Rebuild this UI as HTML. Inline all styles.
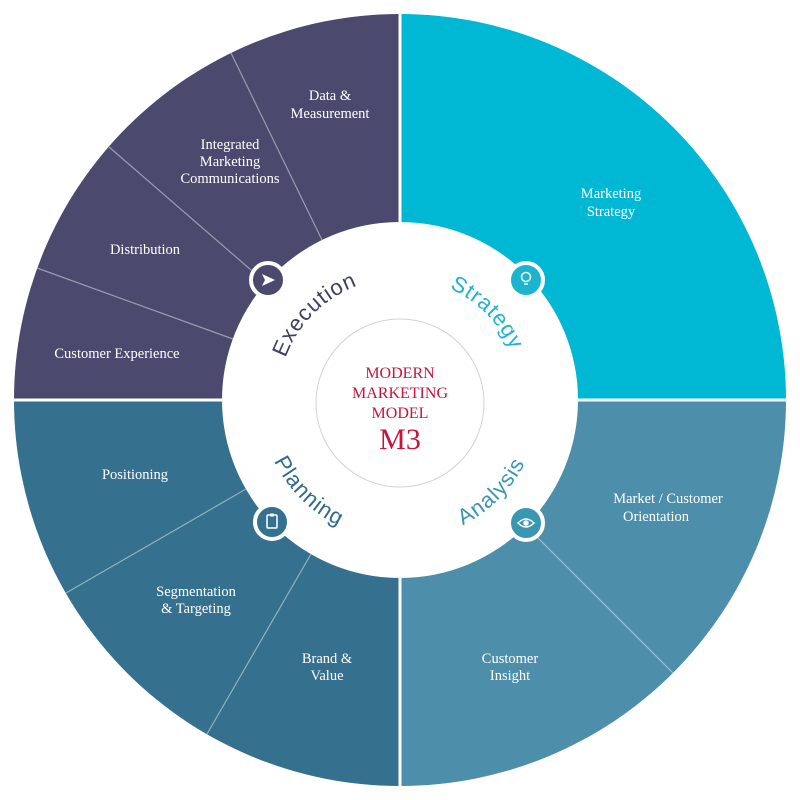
<!DOCTYPE html>
<html><head><meta charset="utf-8"><style>html,body{margin:0;padding:0;background:#fff}svg{display:block}</style></head>
<body>
<svg width="800" height="800" viewBox="0 0 800 800" xmlns="http://www.w3.org/2000/svg">
<rect width="800" height="800" fill="#fff"/>
<path d="M400 400 L14 400 A386 386 0 0 1 400 14 Z" fill="#4b4a6e"/>
<path d="M400 400 L400 14 A386 386 0 0 1 786 400 Z" fill="#00b8d3"/>
<path d="M400 400 L786 400 A386 386 0 0 1 400 786 Z" fill="#4d8fab"/>
<path d="M400 400 L400 786 A386 386 0 0 1 14 400 Z" fill="#35718f"/>
<g stroke="rgba(255,255,255,0.45)" stroke-width="1.2">
<line x1="322" y1="240" x2="231" y2="53"/>
<line x1="266" y1="283" x2="109" y2="147"/>
<line x1="233" y1="339" x2="37" y2="268"/>
<line x1="246" y1="489" x2="66" y2="593"/>
<line x1="311" y1="554" x2="207" y2="734"/>
<line x1="526" y1="526" x2="673" y2="673"/>
</g>
<line x1="400" y1="0" x2="400" y2="800" stroke="#fff" stroke-width="3"/>
<line x1="0" y1="400" x2="800" y2="400" stroke="#fff" stroke-width="3"/>
<circle cx="400" cy="400" r="178" fill="#fff"/>
<circle cx="400" cy="403" r="84" fill="#fff" stroke="#d4d4d4" stroke-width="1"/>
<g font-family="'Liberation Serif',serif" fill="#c8143a" text-anchor="middle">
<text x="400" y="378" font-size="16">MODERN</text>
<text x="400" y="398" font-size="16">MARKETING</text>
<text x="400" y="418" font-size="16">MODEL</text>
<text x="400" y="449" font-size="30">M3</text>
</g>
<defs>
<path id="pE" d="M278,400 A122,122 0 0 1 400,278"/>
<path id="pS" d="M400,278 A122,122 0 0 1 522,400"/>
<path id="pP" d="M260,400 A140,140 0 0 0 400,540"/>
<path id="pA" d="M400,540 A140,140 0 0 0 540,400"/>
</defs>
<g font-family="'Liberation Sans',sans-serif" font-size="22" letter-spacing="1">
<text fill="#3f3e68"><textPath href="#pE" startOffset="50%" text-anchor="middle">Execution</textPath></text>
<text fill="#1db4cf"><textPath href="#pS" startOffset="50%" text-anchor="middle">Strategy</textPath></text>
<text fill="#2e6a8b"><textPath href="#pP" startOffset="50%" text-anchor="middle">Planning</textPath></text>
<text fill="#3b96b2"><textPath href="#pA" startOffset="50%" text-anchor="middle">Analysis</textPath></text>
</g>
<g stroke="#fff" stroke-width="4">
<circle cx="268" cy="280" r="17" fill="#4b4a6e"/>
<circle cx="526" cy="280" r="17" fill="#1db4cf"/>
<circle cx="272" cy="522" r="17" fill="#35718f"/>
<circle cx="526" cy="523" r="17" fill="#3b96b2"/>
</g>
<path d="M262 274 L275 280 L262 286 L265 280 Z" fill="#fff"/>
<g fill="none" stroke="#fff" stroke-width="1.5">
<circle cx="526" cy="277" r="4.5"/><line x1="524" y1="284" x2="528" y2="284"/>
<rect x="267" y="515" width="10" height="13" rx="1"/><line x1="270" y1="515" x2="274" y2="515" stroke-width="3"/>
<path d="M518 523 Q526 515 534 523 Q526 531 518 523 Z"/><circle cx="526" cy="523" r="2" fill="#fff"/>
</g>
<g font-family="'Liberation Serif',serif" font-size="14.5" fill="#fff" text-anchor="middle">
<text x="330" y="100">Data &amp;</text>
<text x="330" y="118">Measurement</text>
<text x="230" y="149">Integrated</text>
<text x="230" y="166">Marketing</text>
<text x="230" y="183">Communications</text>
<text x="145" y="254">Distribution</text>
<text x="117" y="358">Customer Experience</text>
<text x="611" y="198">Marketing</text>
<text x="611" y="216">Strategy</text>
<text x="668" y="503">Market / Customer</text>
<text x="656" y="521">Orientation</text>
<text x="510" y="663">Customer</text>
<text x="510" y="680">Insight</text>
<text x="327" y="663">Brand &amp;</text>
<text x="327" y="680">Value</text>
<text x="196" y="596">Segmentation</text>
<text x="196" y="613">&amp; Targeting</text>
<text x="135" y="479">Positioning</text>
</g>
</svg>
</body></html>
